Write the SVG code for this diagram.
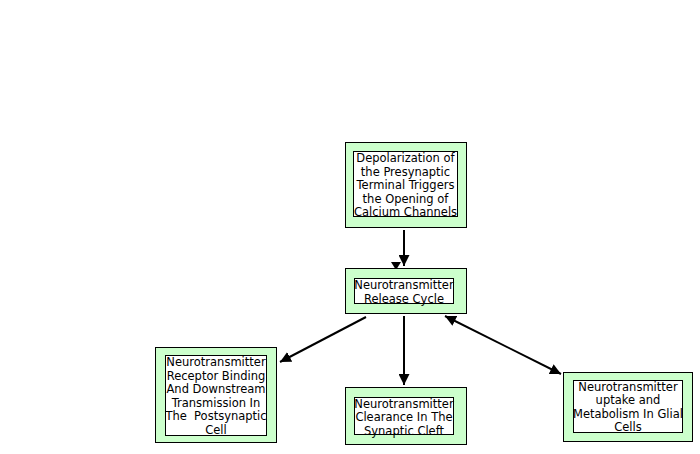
<svg xmlns="http://www.w3.org/2000/svg" width="700" height="454" viewBox="0 0 700 454">
<defs>
<style>
.outer{fill:#ccffcc;stroke:#000;stroke-width:1}
.inner{fill:#fff;stroke:#000;stroke-width:1}
text{font-family:"DejaVu Sans","Liberation Sans",sans-serif;font-size:11.5px;fill:#000;text-anchor:middle}
.edge{stroke:#000;stroke-width:2;fill:none}
</style>
<marker id="ah" viewBox="0 0 10 10" refX="10" refY="5" markerWidth="5.5" markerHeight="5.5" orient="auto-start-reverse" markerUnits="strokeWidth">
<path d="M0,0 L10,5 L0,10 z" fill="#000"/>
</marker>
</defs>
<rect width="700" height="454" fill="#fff"/>
<g id="connectors">
<line class="edge" x1="404" y1="230" x2="404" y2="266" marker-end="url(#ah)"/>
<path d="M391,262 L401,262 L396,270 z" fill="#000"/>
<line class="edge" x1="366" y1="317" x2="280" y2="362" marker-end="url(#ah)"/>
<line class="edge" x1="404" y1="316" x2="404" y2="385" marker-end="url(#ah)"/>
<line class="edge" x1="445" y1="316" x2="561" y2="374" marker-start="url(#ah)" marker-end="url(#ah)"/>
</g>
<g id="n1">
<rect class="outer" x="345.5" y="142.5" width="121" height="85"/>
<rect class="inner" x="353.5" y="151.5" width="104" height="65"/>
<text x="405.5" y="162">Depolarization of</text>
<text x="405.5" y="175.5">the Presynaptic</text>
<text x="405.5" y="189">Terminal Triggers</text>
<text x="405.5" y="202.5">the Opening of</text>
<text x="405.5" y="216">Calcium Channels</text>
</g>
<g id="n2">
<rect class="outer" x="345.5" y="268.5" width="121" height="45"/>
<rect class="inner" x="354.5" y="278.5" width="99" height="25"/>
<text x="404" y="289">Neurotransmitter</text>
<text x="404" y="302.5">Release Cycle</text>
</g>
<g id="n3">
<rect class="outer" x="155.5" y="347.5" width="121" height="95"/>
<rect class="inner" x="165.5" y="355.5" width="101" height="80"/>
<text x="216" y="366">Neurotransmitter</text>
<text x="216" y="379.5">Receptor Binding</text>
<text x="216" y="393">And Downstream</text>
<text x="216" y="406.5">Transmission In</text>
<text x="216" y="420" xml:space="preserve">The  Postsynaptic</text>
<text x="216" y="433.5">Cell</text>
</g>
<g id="n4">
<rect class="outer" x="345.5" y="387.5" width="121" height="57"/>
<rect class="inner" x="354.5" y="397.5" width="99" height="37"/>
<text x="404" y="407.5">Neurotransmitter</text>
<text x="404" y="421">Clearance In The</text>
<text x="404" y="434.5">Synaptic Cleft</text>
</g>
<g id="n5">
<rect class="outer" x="563.5" y="372.5" width="129" height="69"/>
<rect class="inner" x="573.5" y="380.5" width="109" height="52"/>
<text x="628" y="390.5">Neurotransmitter</text>
<text x="628" y="404">uptake and</text>
<text x="628" y="417.5">Metabolism In Glial</text>
<text x="628" y="431">Cells</text>
</g>
</svg>
